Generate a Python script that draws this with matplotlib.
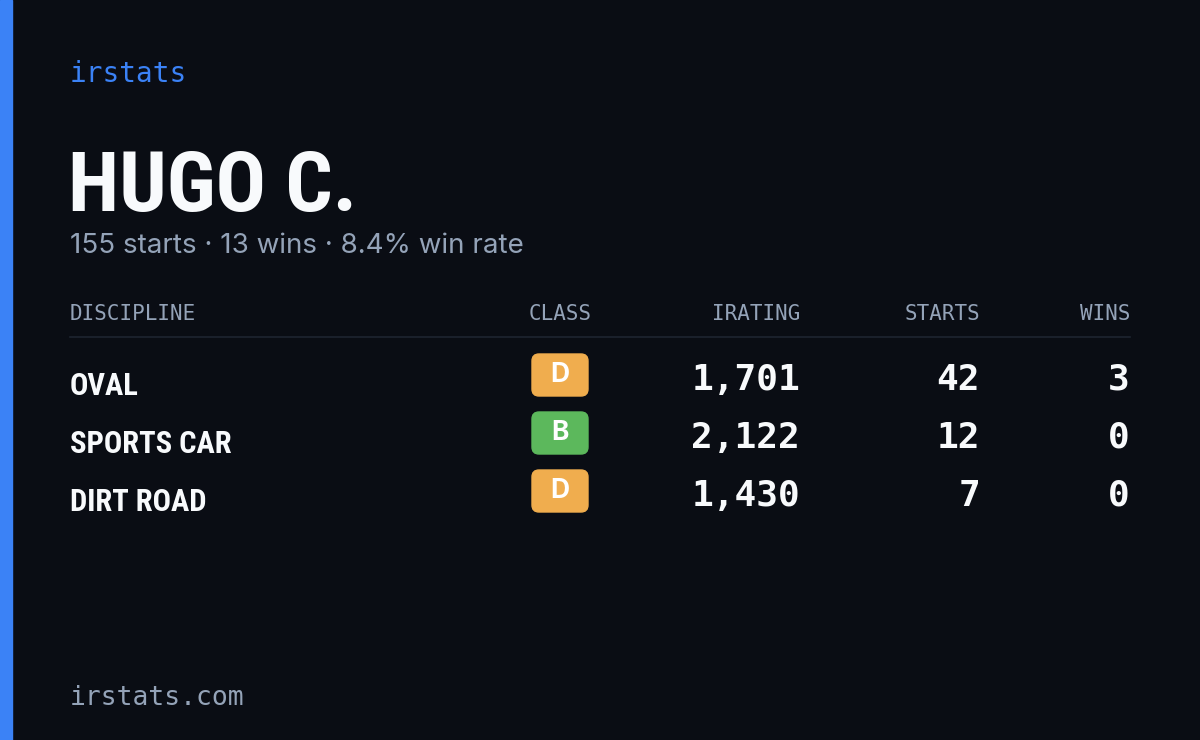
import matplotlib.pyplot as plt
from matplotlib.patches import FancyBboxPatch, Rectangle

BG = "#0a0d14"
BLUE = "#3b82f6"
WHITE = "#f8fafc"
GRAY = "#94a3b8"

driver = "HUGO C."
summary = "155 starts · 13 wins · 8.4% win rate"
headers = ["DISCIPLINE", "CLASS", "IRATING", "STARTS", "WINS"]
disciplines = ["OVAL", "SPORTS CAR", "DIRT ROAD"]
classes = ["D", "B", "D"]
iratings = [1701, 2122, 1430]
starts = [42, 12, 7]
wins = [3, 0, 0]
class_colors = {"D": "#f0ad4e", "B": "#5cb85c"}

NARROW = ["Roboto Condensed", "Roboto", "DejaVu Sans"]
MONO = ["DejaVu Sans Mono"]
SANS = ["Inter", "DejaVu Sans"]

fig = plt.figure(figsize=(12, 7.4), dpi=100, facecolor=BG)
ax = fig.add_axes([0, 0, 1, 1])
ax.set_xlim(0, 1200)
ax.set_ylim(740, 0)
ax.axis("off")
ax.set_facecolor(BG)

ax.add_patch(Rectangle((0, 0), 12, 740, color=BLUE))

ax.text(70, 74, "irstats", color=BLUE, fontsize=20, family=MONO, va="center")
ax.text(68, 188, driver, color=WHITE, fontsize=60, family=NARROW,
        weight="bold", va="center")
ax.text(70, 246, summary, color=GRAY, fontsize=20, family=SANS, va="center")

col_x = [70, 592, 800, 980, 1130]
col_ha = ["left", "right", "right", "right", "right"]
for h, x, ha in zip(headers, col_x, col_ha):
    ax.text(x, 314, h, color=GRAY, fontsize=15, family=MONO, ha=ha,
            va="center")
ax.plot([70, 1130], [337, 337], color="#1e2430", lw=1.2)

for i, name in enumerate(disciplines):
    y = 380 + 58 * i
    ax.text(70, y + 6, name, color=WHITE, fontsize=22, family=NARROW,
            weight="bold", va="center")
    ax.add_patch(FancyBboxPatch((532, y - 26), 56, 42,
                                boxstyle="round,pad=0,rounding_size=7",
                                color=class_colors[classes[i]]))
    ax.text(560, y - 5, classes[i], color="white", fontsize=19,
            family=SANS, weight="bold", ha="center", va="center")
    for val, x in zip([f"{iratings[i]:,}", str(starts[i]), str(wins[i])],
                      [800, 980, 1130]):
        ax.text(x, y, val, color=WHITE, fontsize=26, family=MONO,
                weight="bold", ha="right", va="center")

ax.text(70, 698, "irstats.com", color=GRAY, fontsize=19, family=MONO,
        va="center")

fig.savefig("out.png", dpi=100, facecolor=BG)
